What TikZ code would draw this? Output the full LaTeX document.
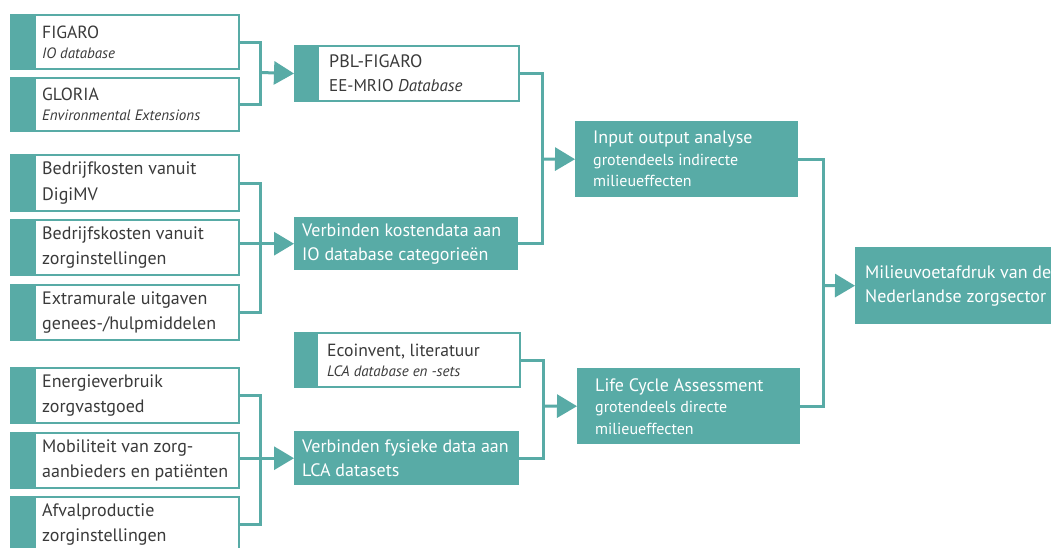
\documentclass[tikz,border=0pt]{standalone}
\usepackage{fontspec}
\setmainfont{PT Sans}
\usetikzlibrary{arrows.meta}
\definecolor{teal1}{RGB}{88,171,166}
\definecolor{txt}{RGB}{58,58,58}
\begin{document}
\begin{tikzpicture}[x=1pt,y=-1pt,
  inbox/.style={draw=teal1, line width=2pt, fill=white, anchor=north west, inner sep=0pt,
    path picture={\fill[teal1] (path picture bounding box.south west) rectangle ([xshift=25pt]path picture bounding box.north west);}},
  fbox/.style={fill=teal1, draw=none, anchor=north west, inner sep=0pt},
  intext/.style={anchor=west, inner sep=0pt, align=left, text=txt, font=\fontsize{18}{25.5}\selectfont},
  wtext/.style={anchor=west, inner sep=0pt, align=left, text=white, font=\fontsize{18}{24}\selectfont},
  smallf/.style={font=\fontsize{17.6}{20}\selectfont},
  con/.style={draw=teal1, line width=3pt},
  arr/.style={con, -{Triangle[length=20pt,width=23pt]}}]
\useasboundingbox (0,0) rectangle (1051,547);
\clip (0,0) rectangle (1051,547);
\fill[white] (0,0) rectangle (1051,547);
% left column input boxes
\node[inbox, minimum width=228pt, minimum height=54pt] (figaro) at (10,14) {};
\node[inbox, minimum width=228pt, minimum height=53pt] (gloria) at (10,77) {};
\node[inbox, minimum width=228pt, minimum height=56pt] (digimv) at (10,154) {};
\node[inbox, minimum width=228pt, minimum height=55pt] (zorginst) at (10,219) {};
\node[inbox, minimum width=228pt, minimum height=55pt] (extra) at (10,284) {};
\node[inbox, minimum width=228pt, minimum height=55pt] (energie) at (10,367) {};
\node[inbox, minimum width=228pt, minimum height=55pt] (mobil) at (10,432) {};
\node[inbox, minimum width=228pt, minimum height=55pt] (afval) at (10,496) {};
% second column
\node[inbox, minimum width=224pt, minimum height=55pt,
  path picture={\fill[teal1] (path picture bounding box.south west) rectangle ([xshift=24pt]path picture bounding box.north west);}] (pbl) at (294,45) {};
\node[fbox, minimum width=224pt, minimum height=53pt] (kost) at (294,217) {};
\node[inbox, minimum width=225pt, minimum height=54pt,
  path picture={\fill[teal1] (path picture bounding box.south west) rectangle ([xshift=23pt]path picture bounding box.north west);}] (eco) at (294,332) {};
\node[fbox, minimum width=225pt, minimum height=54pt] (fys) at (294,431) {};
% third column
\node[fbox, minimum width=223pt, minimum height=76pt] (io) at (575,121) {};
\node[fbox, minimum width=223pt, minimum height=76pt] (lca) at (577,368) {};
% result
\node[fbox, minimum width=210pt, minimum height=77pt] (milieu) at (855,247) {};
% texts
\node[intext, smallf] (figaro-t) at ([xshift=32pt]figaro.west) {FIGARO\\{\fontsize{15}{20}\selectfont\itshape IO database}};
\node[intext, smallf] (gloria-t) at ([xshift=32pt]gloria.west) {GLORIA\\{\fontsize{15}{20}\selectfont\itshape Environmental Extensions}};
\node[intext] (digimv-t) at ([xshift=32pt]digimv.west) {Bedrijfkosten vanuit\\DigiMV};
\node[intext] (zorginst-t) at ([xshift=32pt]zorginst.west) {Bedrijfskosten vanuit\\zorginstellingen};
\node[intext] (extra-t) at ([xshift=32pt]extra.west) {Extramurale uitgaven\\genees-/hulpmiddelen};
\node[intext] (energie-t) at ([xshift=32pt]energie.west) {Energieverbruik\\zorgvastgoed};
\node[intext] (mobil-t) at ([xshift=32pt]mobil.west) {Mobiliteit van zorg-\\aanbieders en patiënten};
\node[intext] (afval-t) at ([xshift=32pt]afval.west) {Afvalproductie\\zorginstellingen};
\node[intext, font=\fontsize{18}{24}\selectfont] (pbl-t) at ([xshift=35pt]pbl.west) {PBL-FIGARO\\{\fontsize{17}{24}\selectfont EE-MRIO \textit{Database}}};
\node[intext, smallf] (eco-t) at ([xshift=33pt]eco.west) {Ecoinvent, literatuur\\{\fontsize{15}{20}\selectfont\itshape LCA database en -sets}};
\node[wtext] (kost-t) at ([xshift=8pt]kost.west) {Verbinden kostendata aan\\IO database categorieën};
\node[wtext] (fys-t) at ([xshift=8pt]fys.west) {Verbinden fysieke data aan\\LCA datasets};
\node[wtext, font=\fontsize{18}{21.5}\selectfont] (io-t) at ([xshift=18pt]io.west) {Input output analyse\\{\fontsize{16}{21.5}\selectfont grotendeels indirecte}\\{\fontsize{16}{21.5}\selectfont milieueffecten}};
\node[wtext, font=\fontsize{18}{21.5}\selectfont] (lca-t) at ([xshift=18pt]lca.west) {Life Cycle Assessment\\{\fontsize{16}{21.5}\selectfont grotendeels directe}\\{\fontsize{16}{21.5}\selectfont milieueffecten}};
\node[wtext, font=\fontsize{18}{24}\selectfont] (milieu-t) at ([xshift=10pt]milieu.west) {Milieuvoetafdruk van de\\Nederlandse zorgsector};
% junctions
\coordinate (j1) at (260,72.5);
\coordinate (j2) at (260,243.5);
\coordinate (j3) at (260,458);
\coordinate (j4) at (542,159);
\coordinate (j5) at (543,406);
\coordinate (j6) at (823,285.5);
% connectors
\draw[con] (figaro.east) -| (j1) |- (gloria.east);
\draw[arr] (j1) -- (pbl.west);
\draw[con] (digimv.east) -| (j2) |- (extra.east);
\draw[arr] (zorginst.east |- kost.west) -- (kost.west);
\draw[con] (energie.east) -| (j3) |- (afval.east);
\draw[arr] (mobil.east |- fys.west) -- (fys.west);
\draw[con] (pbl.east) -| (j4) |- (kost.east);
\draw[arr] (j4) -- (io.west);
\draw[con] (eco.east) -| (j5) |- (fys.east);
\draw[arr] (j5) -- (lca.west);
\draw[con] (io.east) -| (j6) |- (lca.east);
\draw[arr] (j6) -- (milieu.west);
\end{tikzpicture}
\end{document}
